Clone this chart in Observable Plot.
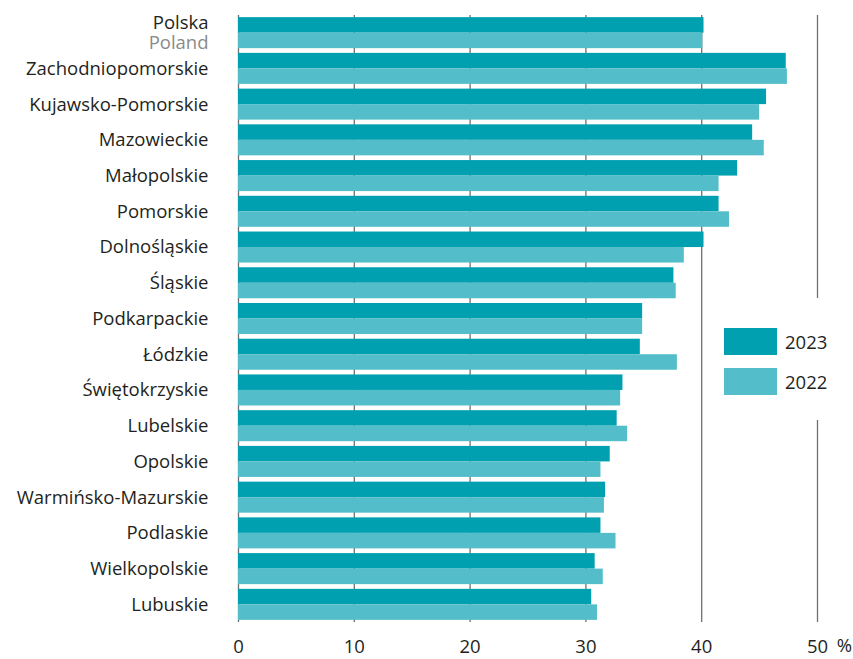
<!DOCTYPE html>
<html>
<head>
<meta charset="utf-8">
<script src="https://cdn.jsdelivr.net/npm/d3@7"></script>
<script src="https://cdn.jsdelivr.net/npm/@observablehq/plot@0.6"></script>
<style>
  html, body { margin: 0; padding: 0; background: #fff; }
  #wrap { position: relative; width: 853px; height: 659px; font-family: "Open Sans", sans-serif; }
  #legend { position: absolute; left: 712px; top: 298px; width: 130px; height: 122px; background: #fff; }
  .item { position: absolute; left: 12px; display: flex; align-items: center; }
  .sw { width: 53px; height: 27px; margin-right: 8px; }
  .lab { font-size: 18.5px; color: #231f20; }
</style>
</head>
<body>
<div id="wrap"></div>
<script>
const regions = ["Polska","Zachodniopomorskie","Kujawsko-Pomorskie","Mazowieckie","Małopolskie","Pomorskie","Dolnośląskie","Śląskie","Podkarpackie","Łódzkie","Świętokrzyskie","Lubelskie","Opolskie","Warmińsko-Mazurskie","Podlaskie","Wielkopolskie","Lubuskie"];
const values2023 = [40.2,47.3,45.6,44.4,43.1,41.5,40.2,37.6,34.9,34.7,33.2,32.7,32.1,31.7,31.3,30.8,30.5];
const values2022 = [40.1,47.4,45.0,45.4,41.5,42.4,38.5,37.8,34.9,37.9,33.0,33.6,31.3,31.6,32.6,31.5,31.0];
const years = ["2023","2022"];
const colors = ["#00a0b0","#53bec9"];
const xTicks = [0,10,20,30,40,50];
const unitLabel = "%";
const polandEn = "Poland";

const W = 853, H = 659, mTop = 15, mBottom = 37, mLeft = 238, mRight = 36;
const padIn = 0.132, padOut = 0.06;
const step = (H - mTop - mBottom) / (regions.length - padIn + 2 * padOut);
const bw = step * (1 - padIn);
const fs = 18.5;

const d23 = regions.map((r, i) => ({region: r, value: values2023[i]}));
const d22 = regions.map((r, i) => ({region: r, value: values2022[i]}));

const chart = Plot.plot({
  width: W, height: H,
  marginTop: mTop, marginBottom: mBottom, marginLeft: mLeft, marginRight: mRight,
  style: {fontFamily: "'Open Sans', sans-serif", fontSize: fs + "px", color: "#231f20", background: "#fff"},
  x: {domain: [0, 50], ticks: xTicks, tickSize: 0, tickPadding: 17, label: null},
  y: {domain: regions, paddingInner: padIn, paddingOuter: padOut, round: false, axis: null},
  marks: [
    Plot.ruleX(xTicks, {stroke: "#707070", strokeWidth: 1.3}),
    Plot.barX(d23, {x: "value", y: "region", fill: colors[0], insetBottom: bw / 2}),
    Plot.barX(d22, {x: "value", y: "region", fill: colors[1], insetTop: bw / 2}),
    Plot.text(d23.filter(d => d.region !== regions[0]), {x: 0, y: "region", text: "region", textAnchor: "end", dx: -30, fill: "#231f20", fontSize: fs}),
    Plot.text(d23.filter(d => d.region === regions[0]), {x: 0, y: "region", text: "region", textAnchor: "end", dx: -30, dy: -10, fill: "#231f20", fontSize: fs}),
    Plot.text(d23.filter(d => d.region === regions[0]), {x: 0, y: "region", text: () => polandEn, textAnchor: "end", dx: -30, dy: 10, fill: "#8a8a8a", fontSize: fs}),
    Plot.text([50], {x: d => d, frameAnchor: "bottom", text: () => unitLabel, dx: 27, dy: 29, fill: "#231f20", fontSize: fs})
  ]
});
const wrap = document.getElementById("wrap");
wrap.appendChild(chart);

const legend = document.createElement("div");
legend.id = "legend";
years.forEach((y, i) => {
  const it = document.createElement("div");
  it.className = "item";
  it.style.top = (30 + i * 40) + "px";
  it.innerHTML = `<div class="sw" style="background:${colors[i]}"></div><div class="lab">${y}</div>`;
  legend.appendChild(it);
});
wrap.appendChild(legend);
</script>
</body>
</html>
